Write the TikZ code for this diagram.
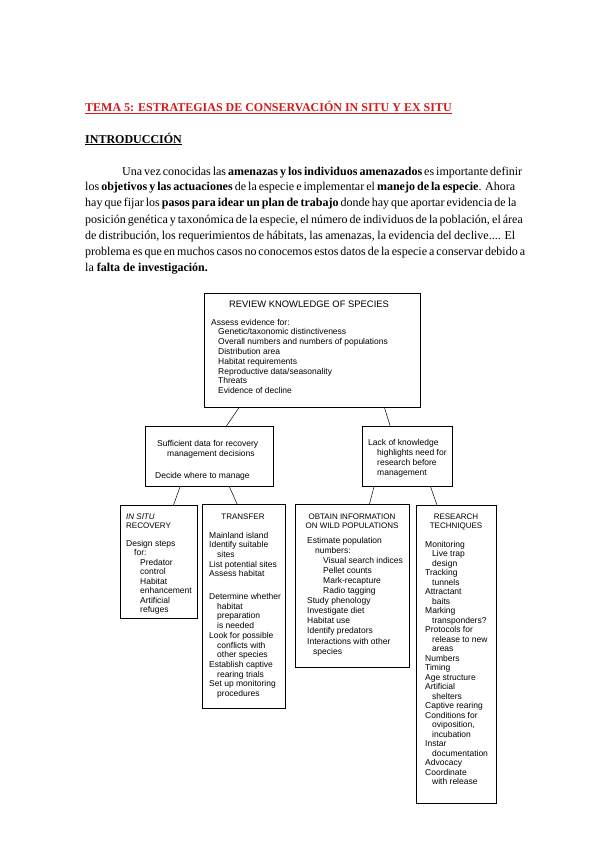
\documentclass[tikz,border=0pt]{standalone}
\usepackage{fontspec}
\setmainfont{Liberation Serif}
\newfontfamily\diagfont{Liberation Sans}
\usetikzlibrary{calc}
\definecolor{temared}{RGB}{214,24,24}
% Lines of a box text, first line on the node's baseline.
\newcommand{\rows}[2][l]{\begin{tabular}[t]{@{}#1@{}}#2\end{tabular}}

\tikzset{
  box/.style={draw, line width=0.6pt, inner sep=0pt, anchor=north west},
  con/.style={line width=0.5pt},
  txt/.style={anchor=base west, inner sep=0pt,
    font=\diagfont\fontsize{8.5}{#1}\selectfont},
  txt/.default=9.5,
  hd/.style={anchor=base, inner sep=0pt,
    font=\diagfont\fontsize{8}{9.5}\selectfont},
  par/.style={anchor=base west, inner sep=0pt,
    font=\fontsize{12}{16}\selectfont},
}

\begin{document}
\begin{tikzpicture}[x=1pt, y=-1pt]
\useasboundingbox (0,0) rectangle (599,848);

% Heading and text.
\node[par, text=temared] (tema) at (85,112)
  {\bfseries\underline{TEMA 5: ESTRATEGIAS DE CONSERVACIÓN IN SITU Y EX SITU}};
\node[par] (intro) at (85,143) {\bfseries\underline{INTRODUCCIÓN}};
\node[par] (texto) at (85,175) {\rows{%
  \hspace*{37pt}\makebox[393pt][s]{Una vez conocidas las \textbf{amenazas y los individuos amenazados} es importante definir}\\
  \makebox[430pt][s]{los \textbf{objetivos y las actuaciones} de la especie e implementar el \textbf{manejo de la especie}. Ahora}\\
  \makebox[430pt][s]{hay que fijar los \textbf{pasos para idear un plan de trabajo} donde hay que aportar evidencia de la}\\
  \makebox[430pt][s]{posición genética y taxonómica de la especie, el número de individuos de la población, el área}\\
  \makebox[430pt][s]{de distribución, los requerimientos de hábitats, las amenazas, la evidencia del declive.... El}\\
  \makebox[430pt][s]{problema es que en muchos casos no conocemos estos datos de la especie a conservar debido a}\\
  la \textbf{falta de investigación.}}};

% Boxes.
\node[box, minimum width=216pt, minimum height=114pt] (review) at (204,293) {};
\node[box, minimum width=128pt, minimum height=60pt] (suff) at (145,426) {};
\node[box, minimum width=90pt, minimum height=60pt] (lack) at (362,426) {};
\node[box, minimum width=77pt, minimum height=113pt] (insitu) at (120,505) {};
\node[box, minimum width=83pt, minimum height=204pt] (transfer) at (202,504) {};
\node[box, minimum width=114pt, minimum height=163pt] (obtain) at (295,504) {};
\node[box, minimum width=80pt, minimum height=298pt] (research) at (416,505) {};

% Connectors.
\draw[con] ($(review.south west)!.162!(review.south east)$) -- ($(suff.north west)!.633!(suff.north east)$);
\draw[con] ($(review.south west)!.833!(review.south east)$) -- ($(lack.north west)!.311!(lack.north east)$);
\draw[con] ($(suff.south west)!.273!(suff.south east)$) -- ($(insitu.north west)!.69!(insitu.north east)$);
\draw[con] ($(suff.south west)!.656!(suff.south east)$) -- ($(transfer.north west)!.42!(transfer.north east)$);
\draw[con] ($(lack.south west)!.133!(lack.south east)$) -- ($(obtain.north west)!.65!(obtain.north east)$);
\draw[con] ($(lack.south west)!.756!(lack.south east)$) -- ($(research.north west)!.26!(research.north east)$);

% Box texts.
\node[hd, font=\diagfont\fontsize{9.4}{10}\selectfont] (reviewhd) at (309,307) {REVIEW KNOWLEDGE OF SPECIES};
\node[txt=9.8] (reviewtxt) at (211,325) {\rows{Assess evidence for:\\
  \hspace*{7pt}Genetic/taxonomic distinctiveness\\
  \hspace*{7pt}Overall numbers and numbers of populations\\
  \hspace*{7pt}Distribution area\\
  \hspace*{7pt}Habitat requirements\\
  \hspace*{7pt}Reproductive data/seasonality\\
  \hspace*{7pt}Threats\\
  \hspace*{7pt}Evidence of decline}};

\node[txt=10] (sufftxt) at (155,446) {\rows{\hspace*{2pt}Sufficient data for recovery\\
  \hspace*{12pt}management decisions\\[12pt]
  Decide where to manage}};
\node[txt=10] (lacktxt) at (368,445) {\rows{Lack of knowledge\\
  \hspace*{9pt}highlights need for\\
  \hspace*{9pt}research before\\
  \hspace*{9pt}management}};

\node[hd, anchor=base west] (insituhd) at (126,519) {\rows{\textit{IN SITU}\\RECOVERY}};
\node[txt] (insitutxt) at (126,546) {\rows{Design steps\\
  \hspace*{8pt}for:\\
  \hspace*{14pt}Predator\\
  \hspace*{14pt}control\\
  \hspace*{14pt}Habitat\\
  \hspace*{14pt}enhancement\\
  \hspace*{14pt}Artificial\\
  \hspace*{14pt}refuges}};

\node[hd] (transferhd) at (243,519) {TRANSFER};
\node[txt=9.7] (transfertxt) at (209,538) {\rows{Mainland island\\
  Identify suitable\\
  \hspace*{8pt}sites\\
  List potential sites\\
  Assess habitat\\[13pt]
  Determine whether\\
  \hspace*{8pt}habitat\\
  \hspace*{8pt}preparation\\
  \hspace*{8pt}is needed\\
  Look for possible\\
  \hspace*{8pt}conflicts with\\
  \hspace*{8pt}other species\\
  Establish captive\\
  \hspace*{8pt}rearing trials\\
  Set up monitoring\\
  \hspace*{8pt}procedures}};

\node[hd] (obtainhd) at (352,519) {\rows[c]{OBTAIN INFORMATION\\ON WILD POPULATIONS}};
\node[txt=10.1] (obtaintxt) at (307,543) {\rows{Estimate population\\
  \hspace*{8pt}numbers:\\
  \hspace*{16pt}Visual search indices\\
  \hspace*{16pt}Pellet counts\\
  \hspace*{16pt}Mark-recapture\\
  \hspace*{16pt}Radio tagging\\
  Study phenology\\
  Investigate diet\\
  Habitat use\\
  Identify predators\\
  Interactions with other\\
  \hspace*{6pt}species}};

\node[hd] (researchhd) at (456,519) {\rows[c]{RESEARCH\\TECHNIQUES}};
\node[txt] (researchtxt) at (425,547) {\rows{Monitoring\\
  \hspace*{7pt}Live trap\\
  \hspace*{7pt}design\\
  Tracking\\
  \hspace*{7pt}tunnels\\
  Attractant\\
  \hspace*{7pt}baits\\
  Marking\\
  \hspace*{7pt}transponders?\\
  Protocols for\\
  \hspace*{7pt}release to new\\
  \hspace*{7pt}areas\\
  Numbers\\
  Timing\\
  Age structure\\
  Artificial\\
  \hspace*{7pt}shelters\\
  Captive rearing\\
  Conditions for\\
  \hspace*{7pt}oviposition,\\
  \hspace*{7pt}incubation\\
  Instar\\
  \hspace*{7pt}documentation\\
  Advocacy\\
  Coordinate\\
  \hspace*{7pt}with release}};

\end{tikzpicture}
\end{document}
